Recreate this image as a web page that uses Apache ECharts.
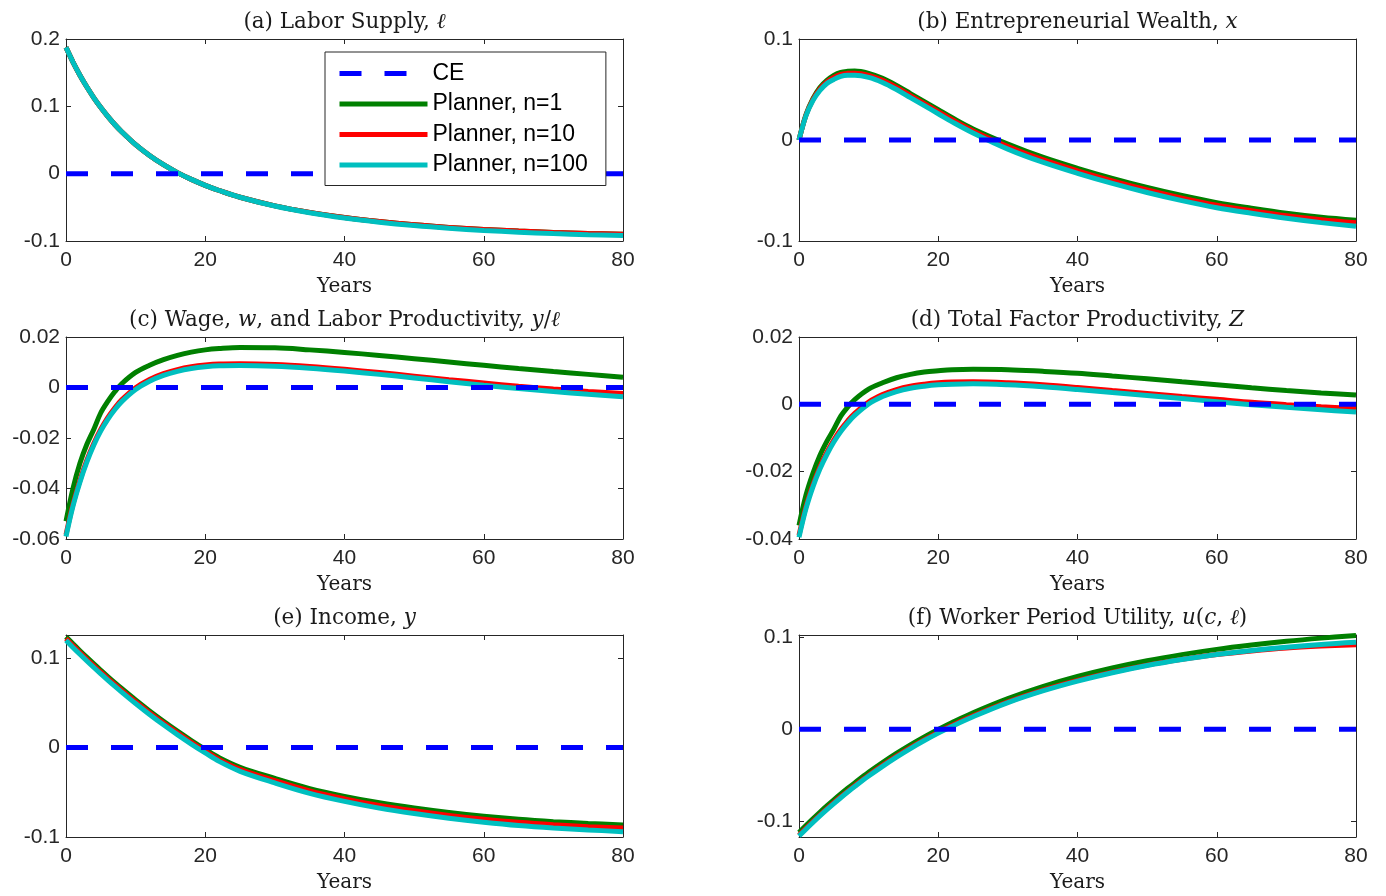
<!DOCTYPE html>
<html>
<head>
<meta charset="utf-8">
<script src="https://cdn.jsdelivr.net/npm/echarts@6/dist/echarts.min.js"></script>
<style>
html,body{margin:0;padding:0;background:#fff;}
#chart{width:1386px;height:896px;}
</style>
</head>
<body>
<div id="chart"></div>
<script>
// ---------------- data ----------------
const years = [0,1,2,3,4,5,6,7,8,10,12,14,16,18,20,22,25,30,35,40,45,50,55,60,65,70,75,80];
const ceYears = [0, 80];
const ceValues = [0, 0];

// (a) Labor supply
const laborN1   = [0.1875,0.1658,0.1463,0.1287,0.1127,0.0982,0.0851,0.0731,0.0623,0.0431,0.0270,0.0133,0.0016,-0.0085,-0.0173,-0.0250,-0.0350,-0.0478,-0.0575,-0.0651,-0.0711,-0.0760,-0.0798,-0.0828,-0.0852,-0.0872,-0.0888,-0.0900];
const laborN10  = [0.1875,0.1658,0.1463,0.1287,0.1127,0.0982,0.0851,0.0731,0.0623,0.0431,0.0270,0.0133,0.0016,-0.0085,-0.0173,-0.0250,-0.0350,-0.0478,-0.0575,-0.0651,-0.0711,-0.0760,-0.0798,-0.0828,-0.0852,-0.0872,-0.0888,-0.0900];
const laborN100 = [0.1875,0.1658,0.1463,0.1287,0.1127,0.0982,0.0851,0.0731,0.0623,0.0431,0.0270,0.0133,0.0016,-0.0085,-0.0173,-0.0250,-0.0350,-0.0481,-0.0581,-0.0659,-0.0721,-0.0771,-0.0811,-0.0843,-0.0869,-0.0890,-0.0907,-0.0920];

// (b) Entrepreneurial wealth
const wealthN1   = [0,0.025,0.041,0.052,0.059,0.064,0.067,0.068,0.0683,0.066,0.061,0.054,0.046,0.038,0.030,0.022,0.011,-0.004,-0.017,-0.028,-0.038,-0.047,-0.055,-0.062,-0.0675,-0.0725,-0.0765,-0.0795];
const wealthN10  = [0,0.0245,0.040,0.0505,0.0575,0.062,0.065,0.066,0.0662,0.064,0.059,0.052,0.044,0.036,0.028,0.020,0.009,-0.0065,-0.0195,-0.0305,-0.0405,-0.0495,-0.0575,-0.0645,-0.070,-0.075,-0.079,-0.082];
const wealthN100 = [0,0.024,0.039,0.049,0.056,0.060,0.063,0.064,0.064,0.062,0.057,0.050,0.042,0.034,0.026,0.018,0.007,-0.009,-0.022,-0.033,-0.043,-0.052,-0.060,-0.067,-0.0725,-0.0775,-0.0818,-0.0855];

// (c) Wage / labor productivity
const wageN1   = [-0.053,-0.040,-0.030,-0.0225,-0.0165,-0.0100,-0.0055,-0.0017,0.0015,0.0060,0.0088,0.0110,0.0127,0.0140,0.0149,0.0154,0.0158,0.0157,0.0149,0.0139,0.0127,0.0114,0.0101,0.0088,0.0075,0.0063,0.0052,0.0041];
const wageN10  = [-0.0583,-0.0463,-0.0368,-0.0288,-0.0221,-0.0165,-0.0119,-0.0081,-0.0049,-0.0001,0.0032,0.0055,0.0071,0.0082,0.0089,0.0093,0.0094,0.0091,0.0083,0.0072,0.0059,0.0045,0.0031,0.0018,0.0005,-0.0006,-0.0016,-0.0024];
const wageN100 = [-0.059,-0.047,-0.0375,-0.0295,-0.0228,-0.0172,-0.0126,-0.0088,-0.0056,-0.0008,0.0025,0.0048,0.0064,0.0075,0.0082,0.0086,0.0087,0.0084,0.0076,0.0065,0.0052,0.0038,0.0023,0.0009,-0.0004,-0.0016,-0.0027,-0.0037];

// (d) Total factor productivity
const tfpN1   = [-0.036,-0.027,-0.0205,-0.0152,-0.011,-0.0074,-0.0035,-0.0008,0.0014,0.0045,0.0064,0.0079,0.0089,0.0096,0.0100,0.0103,0.0104,0.0103,0.0098,0.0092,0.0084,0.0076,0.0067,0.0058,0.0049,0.0041,0.0034,0.0028];
const tfpN10  = [-0.0389,-0.0304,-0.0239,-0.0186,-0.0143,-0.0106,-0.0075,-0.0049,-0.0027,0.0007,0.0029,0.0044,0.0054,0.0060,0.0064,0.0066,0.0067,0.0064,0.0058,0.0050,0.0041,0.0032,0.0023,0.0015,0.0006,-0.0001,-0.0007,-0.0012];
const tfpN100 = [-0.0395,-0.031,-0.0245,-0.0192,-0.0149,-0.0112,-0.0081,-0.0055,-0.0033,0.0001,0.0023,0.0038,0.0048,0.0054,0.0058,0.0060,0.0061,0.0058,0.0052,0.0044,0.0035,0.0026,0.0017,0.0008,-0.0001,-0.0009,-0.0016,-0.0023];

// (e) Income
const incomeN1   = [0.124,0.1161,0.1084,0.1009,0.0936,0.0865,0.0795,0.0727,0.0661,0.0533,0.0411,0.0295,0.0185,0.0080,-0.0019,-0.0113,-0.0220,-0.0345,-0.0458,-0.0545,-0.0617,-0.0676,-0.0726,-0.0768,-0.0802,-0.0828,-0.0848,-0.0865];
const incomeN10  = [0.122,0.1141,0.1064,0.0989,0.0916,0.0845,0.0775,0.0707,0.0641,0.0513,0.0391,0.0275,0.0165,0.0060,-0.0039,-0.0134,-0.0242,-0.0370,-0.0485,-0.0573,-0.0647,-0.0707,-0.0758,-0.0801,-0.0836,-0.0863,-0.0884,-0.0900];
const incomeN100 = [0.120,0.1121,0.1044,0.0969,0.0896,0.0825,0.0755,0.0687,0.0621,0.0493,0.0371,0.0255,0.0145,0.0040,-0.0059,-0.0154,-0.0265,-0.0395,-0.0511,-0.0601,-0.0677,-0.0738,-0.0790,-0.0834,-0.0871,-0.0899,-0.0921,-0.0940];

// (f) Worker period utility
const utilityN1   = [-0.112,-0.1045,-0.0972,-0.0901,-0.0833,-0.0767,-0.0703,-0.0641,-0.0582,-0.0468,-0.0362,-0.0262,-0.0169,-0.0082,-0.0001,0.0075,0.0180,0.0334,0.0464,0.0574,0.0667,0.0746,0.0812,0.0869,0.0916,0.0957,0.0991,0.1020];
const utilityN10  = [-0.115,-0.1075,-0.1002,-0.0931,-0.0863,-0.0797,-0.0733,-0.0671,-0.0612,-0.0498,-0.0392,-0.0292,-0.0199,-0.0112,-0.0031,0.0044,0.0147,0.0299,0.0426,0.0532,0.0622,0.0698,0.0760,0.0812,0.0852,0.0884,0.0905,0.0920];
const utilityN100 = [-0.116,-0.1085,-0.1012,-0.0941,-0.0873,-0.0807,-0.0743,-0.0681,-0.0622,-0.0508,-0.0402,-0.0302,-0.0209,-0.0122,-0.0041,0.0034,0.0137,0.0290,0.0417,0.0524,0.0615,0.0693,0.0758,0.0814,0.0856,0.0892,0.0922,0.0945];

const seriesNames = ['CE', 'Planner, n=1', 'Planner, n=10', 'Planner, n=100'];
const titles = [
  '(a) Labor Supply, {i|ℓ}',
  '(b) Entrepreneurial Wealth, {i|x}',
  '(c) Wage, {i|w}, and Labor Productivity, {i|y}/{i|ℓ}',
  '(d) Total Factor Productivity, {i|Z}',
  '(e) Income, {i|y}',
  '(f) Worker Period Utility, {i|u}({i|c}, {i|ℓ})'
];
const xTicks = { min: 0, max: 80, interval: 20 };
const yAxes = [
  { min: -0.1, max: 0.2, interval: 0.1 },
  { min: -0.1, max: 0.1, interval: 0.1 },
  { min: -0.06, max: 0.02, interval: 0.02 },
  { min: -0.04, max: 0.02, interval: 0.02 },
  { min: -0.1, max: 0.126, splitNumber: 2, hideMin: false, hideMax: true },
  { min: -0.117, max: 0.1025, splitNumber: 2, hideMin: true, hideMax: true }
];
const panelData = [
  [laborN1, laborN10, laborN100],
  [wealthN1, wealthN10, wealthN100],
  [wageN1, wageN10, wageN100],
  [tfpN1, tfpN10, tfpN100],
  [incomeN1, incomeN10, incomeN100],
  [utilityN1, utilityN10, utilityN100]
];

// ---------------- layout / style ----------------
const AX = '#262626';
const gridLefts = [66, 799];
const gridTops = [39, 337, 635];
const GW = 557, GH = 202;
const colors = ['#0000ff', '#008000', '#ff0000', '#00bfbf'];
const ceDash = [22, 23];
const sans = 'Liberation Sans, Arial, sans-serif';
const serif = 'DejaVu Serif, serif';

const fmt = v => String(+(+v).toFixed(4));

const grid = [], xAxis = [], yAxis = [], series = [], title = [];
panelData.forEach((sets, i) => {
  const col = i % 2, row = Math.floor(i / 2);
  const left = gridLefts[col], top = gridTops[row];
  grid.push({ left, top, width: GW, height: GH, containLabel: false });
  title.push({
    text: titles[i], left: left + GW / 2, top: top - 28, textAlign: 'center', padding: 0,
    textStyle: { fontFamily: serif, fontSize: 21.5, fontWeight: 'normal', color: '#1a1a1a',
      rich: { i: { fontFamily: serif, fontStyle: 'italic', fontSize: 21.5, color: '#1a1a1a' } } }
  });
  const axLine = { show: true, onZero: false, lineStyle: { color: AX, width: 1 } };
  const tick = { show: true, inside: true, length: 5, lineStyle: { color: AX, width: 1 } };
  xAxis.push({
    type: 'value', gridIndex: i, position: 'bottom', min: xTicks.min, max: xTicks.max, interval: xTicks.interval,
    axisLine: axLine, axisTick: tick, splitLine: { show: false },
    axisLabel: { color: AX, fontFamily: sans, fontSize: 21, margin: 9, formatter: fmt },
    name: 'Years', nameLocation: 'middle', nameGap: 36,
    nameTextStyle: { fontFamily: serif, fontSize: 20, color: '#1a1a1a' }
  });
  xAxis.push({
    type: 'value', gridIndex: i, position: 'top', min: xTicks.min, max: xTicks.max, interval: xTicks.interval,
    axisLine: axLine, axisTick: tick, splitLine: { show: false }, axisLabel: { show: false }
  });
  const ya = yAxes[i];
  const ybase = { type: 'value', gridIndex: i, min: ya.min, max: ya.max, axisLine: axLine, axisTick: tick, splitLine: { show: false } };
  if (ya.interval) ybase.interval = ya.interval; else ybase.splitNumber = ya.splitNumber;
  yAxis.push(Object.assign({}, ybase, {
    position: 'left',
    axisLabel: { color: AX, fontFamily: sans, fontSize: 21, margin: 6, formatter: fmt,
      showMinLabel: !ya.hideMin, showMaxLabel: !ya.hideMax }
  }));
  yAxis.push(Object.assign({}, ybase, { position: 'right', axisLabel: { show: false } }));

  const common = { type: 'line', xAxisIndex: 2 * i, yAxisIndex: 2 * i, symbol: 'none', showSymbol: false,
    animation: false, emphasis: { disabled: true }, silent: true };
  series.push(Object.assign({}, common, {
    name: seriesNames[0], data: ceYears.map((x, k) => [x, ceValues[k]]), z: 6,
    lineStyle: { color: colors[0], width: 5, type: ceDash, cap: 'butt' }, itemStyle: { color: colors[0] }
  }));
  sets.forEach((vals, s) => {
    series.push(Object.assign({}, common, {
      name: seriesNames[s + 1], data: years.map((x, k) => [x, vals[k]]), z: 2 + s, smooth: 0.35,
      lineStyle: { color: colors[s + 1], width: 5 }, itemStyle: { color: colors[s + 1] }
    }));
  });
});

const legendData = seriesNames.map((name, k) => ({
  name,
  itemStyle: { opacity: 0, color: 'rgba(0,0,0,0)', borderWidth: 0 },
  lineStyle: { color: colors[k], width: 5, type: k === 0 ? ceDash : 'solid', cap: 'butt', opacity: 1 }
}));

const chart = echarts.init(document.getElementById('chart'), null, { renderer: 'canvas' });
chart.setOption({
  animation: false,
  backgroundColor: '#fff',
  title, grid, xAxis, yAxis, series,
  legend: {
    data: legendData, orient: 'vertical', left: 325, top: 52,
    itemWidth: 88, itemHeight: 20, itemGap: 7.5, padding: [10, 18, 9, 12],
    backgroundColor: '#fff', borderColor: AX, borderWidth: 1, selectedMode: false,
    textStyle: { fontFamily: sans, fontSize: 23, color: '#000' }, z: 20
  }
});
</script>
</body>
</html>
